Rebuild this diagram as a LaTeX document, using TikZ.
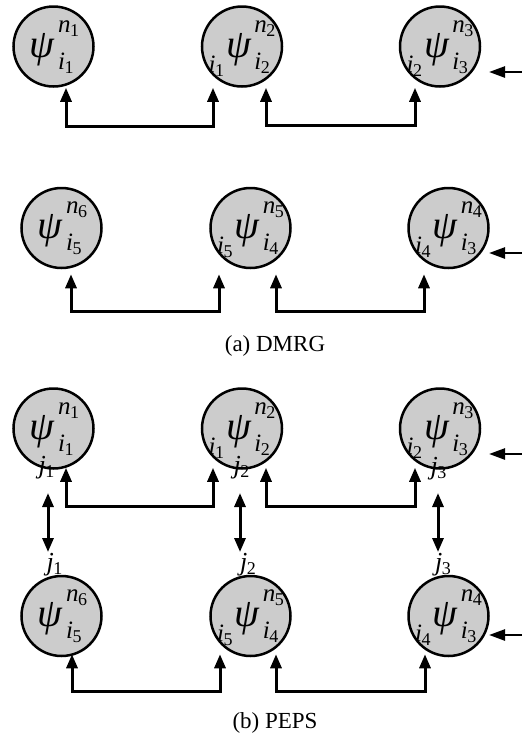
\documentclass[tikz,border=0pt]{standalone}
\usepackage{fontspec}
\setmainfont{Liberation Serif}
\usetikzlibrary{positioning,arrows.meta,calc}

% letter with a small digit below it
\newcommand{\ix}[2]{\textit{#1}\kern-0.5pt\raisebox{-4pt}{\fontsize{18}{18}\selectfont #2}}
% psi with left index, upper n and lower i (takes no room, so the circle keeps its size)
\newcommand{\wf}[3]{\raisebox{-10.5pt}[0pt][0pt]{\makebox[0pt]{%
  {\fontsize{25}{28}\selectfont\raisebox{-15pt}{#1}}%
  \kern2pt\textit{ψ}\kern3pt%
  {\fontsize{25}{28}\selectfont\ooalign{\raisebox{25pt}{\ix{n}{#2}}\cr\raisebox{-12pt}{\ix{i}{#3}}}}}}}

\begin{document}
\begin{tikzpicture}[x=1pt, y=-1pt,
    tensor/.style={circle, draw=black, line width=2.5pt, fill=black!20, minimum size=80pt, inner sep=0pt, font=\fontsize{40}{44}\selectfont},
    jlabel/.style={inner sep=0pt, anchor=base, font=\fontsize{26}{28}\selectfont},
    caption/.style={inner sep=0pt, anchor=base, font=\fontsize{23}{26}\selectfont},
    link/.style={{Triangle[length=14pt,width=11pt]}-{Triangle[length=14pt,width=11pt]}, line width=3pt},
    feed/.style={-{Triangle[length=16pt,width=11pt]}, line width=2.5pt}
]
    \useasboundingbox (0,0) rectangle (522,740);

    % (a) DMRG
    \node[tensor] (d1) at (53.5,46.5) {\wf{}{1}{1}};
    \node[tensor] (d2) at (242,46.5) {\wf{\ix{i}{1}}{2}{2}};
    \node[tensor] (d3) at (440,46.5) {\wf{\ix{i}{2}}{3}{3}};
    \node[tensor] (d6) at (61.5,228) {\wf{}{6}{5}};
    \node[tensor] (d5) at (250.5,228) {\wf{\ix{i}{5}}{5}{4}};
    \node[tensor] (d4) at (448.5,228) {\wf{\ix{i}{4}}{4}{3}};

    \draw[link] ([shift={(12.5,0)}]d1.south) -- ++(0,39) -| ([shift={(-29,0)}]d2.south);
    \draw[link] ([shift={(24,0)}]d2.south) -- ++(0,38) -| ([shift={(-25,0)}]d3.south);
    \draw[link] ([shift={(9.5,5)}]d6.south) -- ++(0,37) -| ([shift={(-31.5,5)}]d5.south);
    \draw[link] ([shift={(25.5,5)}]d5.south) -- ++(0,37) -| ([shift={(-24.5,5)}]d4.south);

    \coordinate (ea) at (522,72);
    \coordinate (eb) at (522,253);
    \draw[feed] (ea) -- ++(-33,0);
    \draw[feed] (eb) -- ++(-33,0);

    \node[caption] (capa) at (275,351) {(a) DMRG};

    % (b) PEPS
    \node[tensor] (p1) at (53.5,428.5) {\wf{}{1}{1}};
    \node[tensor] (p2) at (242,428.5) {\wf{\ix{i}{1}}{2}{2}};
    \node[tensor] (p3) at (440,428.5) {\wf{\ix{i}{2}}{3}{3}};
    \node[tensor] (p6) at (61.5,616) {\wf{}{6}{5}};
    \node[tensor] (p5) at (250.5,616) {\wf{\ix{i}{5}}{5}{4}};
    \node[tensor] (p4) at (448.5,616) {\wf{\ix{i}{4}}{4}{3}};

    \node[jlabel] (ja1) at (46.5,473) {\ix{j}{1}};
    \node[jlabel] (ja2) at (241.5,473) {\ix{j}{2}};
    \node[jlabel] (ja3) at (438.5,474) {\ix{j}{3}};
    \node[jlabel] (jb1) at (54.5,570) {\ix{j}{1}};
    \node[jlabel] (jb2) at (248,570) {\ix{j}{2}};
    \node[jlabel] (jb3) at (443,570) {\ix{j}{3}};

    \draw[link] ([shift={(12.5,-2)}]p1.south) -- ++(0,39) -| ([shift={(-29,-2)}]p2.south);
    \draw[link] ([shift={(24,-2)}]p2.south) -- ++(0,39) -| ([shift={(-25,-2)}]p3.south);
    \draw[link] ([shift={(10.5,-3)}]p6.south) -- ++(0,37) -| ([shift={(-30.5,-3)}]p5.south);
    \draw[link] ([shift={(25.5,-3)}]p5.south) -- ++(0,37) -| ([shift={(-23.5,-3)}]p4.south);

    \draw[link] ([shift={(1.5,20)}]ja1.base) -- ([shift={(-6.5,-18)}]jb1.base);
    \draw[link] ([shift={(-1.5,20)}]ja2.base) -- ([shift={(-8,-18)}]jb2.base);
    \draw[link] ([shift={(-0.5,19)}]ja3.base) -- ([shift={(-5,-18)}]jb3.base);

    \coordinate (ec) at (522,454);
    \coordinate (ed) at (522,635);
    \draw[feed] (ec) -- ++(-33,0);
    \draw[feed] (ed) -- ++(-33,0);

    \node[caption] (capb) at (275,728) {(b) PEPS};
\end{tikzpicture}
\end{document}
